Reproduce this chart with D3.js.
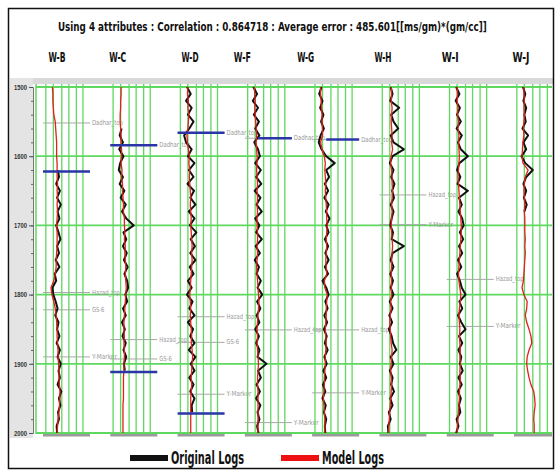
<!DOCTYPE html>
<html>
<head>
<meta charset="utf-8">
<script src="https://cdnjs.cloudflare.com/ajax/libs/d3/7.8.5/d3.min.js"></script>
<style>
  body { margin: 0; background: #fff; }
  text { font-family: 'Liberation Sans Narrow', 'DejaVu Sans Condensed', 'Liberation Sans', sans-serif; }
</style>
</head>
<body>
<div id="chart"></div>
<script>
// ---- data ----
const wells = ['W-B', 'W-C', 'W-D', 'W-F', 'W-G', 'W-H', 'W-I', 'W-J'];

const depths = [
  1500, 1510, 1520, 1530, 1540, 1550, 1560, 1570, 1580, 1590,
  1600, 1610, 1620, 1630, 1640, 1650, 1660, 1670, 1680, 1690,
  1700, 1710, 1720, 1730, 1740, 1750, 1760, 1770, 1780, 1790,
  1800, 1810, 1820, 1830, 1840, 1850, 1860, 1870, 1880, 1890,
  1900, 1910, 1920, 1930, 1940, 1950, 1960, 1970, 1980, 1990,
  2000
];
const depthTicks = [1500, 1600, 1700, 1800, 1900, 2000];

// log values, 0..100 across each track
const modelB = [20,21,21,22,23,26,27,28,29,29, 29,30,30,30,31,30,31,30,31,30, 29,30,30,30,29,28,28,26,23,17, 19,23,26,28,29,30,30,31,32,32, 33,34,34,35,36,36,35,34,32,31, 30];
const origB  = [null,null,null,null,null,null,null,null,null,null, null,null,32,34,28,36,30,38,31,35, 28,33,37,30,34,27,35,25,28,20, 22,27,31,26,33,30,35,29,36,31, 38,33,36,31,39,34,37,32,34,29, 30];

const modelC = [23,23,22,22,21,21,22,23,23,24, 24,23,25,24,26,26,27,28,28,30, 30,31,30,32,31,32,33,32,33,34, 33,32,31,30,29,29,30,29,30,30, 29,29,28,28,28,28,27,27,27,27, 27];
const origC  = [null,null,null,null,null,null,24,20,27,19, 28,21,18,27,20,30,22,33,25,34, 50,28,34,27,35,29,37,30,36,38, 32,36,27,33,25,31,26,33,28,34, 29,31,null,null,null,null,null,null,null,null, null];

const modelD = [22,21,23,22,24,23,22,20,21,23, 25,24,26,25,26,27,28,27,28,29, 28,29,30,31,30,31,30,29,28,27, 26,27,28,27,28,29,30,29,31,32, 31,30,29,30,29,28,28,28,28,28, 28];
const origD  = [20,28,18,30,22,34,25,14,18,30, 22,36,24,34,21,35,27,38,24,36, 26,40,28,37,27,38,26,34,22,30, 20,32,25,36,22,33,27,36,24,38, 28,36,25,34,27,36,30,31,null,null, null];

const modelF = [20,21,22,21,22,23,24,25,24,25, 26,26,25,26,27,26,27,26,27,26, 26,27,27,26,27,26,25,26,27,28, 29,30,29,28,27,26,27,26,27,28, 29,28,27,27,28,28,28,28,28,28, 28];
const origF  = [18,26,17,28,19,30,22,31,20,28, 32,22,34,24,35,21,33,25,36,22, 31,24,36,23,32,21,30,25,34,27, 37,26,33,25,31,22,30,24,31,27, 46,28,34,25,32,24,33,27,31,26, 29];

const modelG = [18,18,19,20,21,21,22,22,18,21, 26,28,27,28,29,28,29,30,31,31, 32,31,30,31,30,29,30,31,26,27, 32,31,30,30,29,28,29,30,29,28, 28,27,26,26,25,24,25,26,27,27, 27];
const origG  = [20,15,22,17,24,19,25,18,14,20, 30,48,30,36,27,34,26,35,29,37, 30,35,27,34,28,35,27,34,22,30, 35,28,33,26,32,25,31,27,33,26, 31,24,30,23,28,22,29,25,30,27, 28];

const modelH = [25,26,25,27,26,25,26,27,26,28, 25,24,26,27,27,28,27,26,27,26, 25,26,27,28,27,26,26,25,26,25, 26,24,25,23,22,23,24,25,27,26, 25,24,25,26,25,24,23,22,21,20, 19];
const origH  = [24,28,23,42,25,30,40,24,30,52, 28,22,30,25,32,27,31,24,30,26, 23,29,26,52,28,24,30,23,29,24, 30,22,28,21,27,20,26,29,36,24, 30,22,28,25,31,23,28,20,24,18, 19];

const modelI = [22,23,22,24,23,25,24,26,25,26, 27,26,25,24,25,26,27,28,29,30, 31,31,30,29,28,27,26,25,26,28, 30,29,27,26,27,28,27,28,29,28, 29,28,29,28,27,27,26,25,24,23, 22];
const origI  = [20,27,19,28,22,30,21,32,24,30, 45,27,22,29,23,45,26,32,25,33, 36,28,35,26,33,24,31,22,28,32, 40,27,33,24,31,40,26,33,25,31, 28,34,25,32,24,30,26,29,21,25, 20];

const modelJ = [21,21,22,21,22,21,20,21,19,18, 17,19,30,24,22,21,22,23,22,23, 23,23,24,23,24,23,22,21,20,17, 21,28,27,24,27,32,36,38,32,28, 27,29,32,36,42,44,45,43,42,43, 43];
const origJ  = [19,24,20,26,22,25,18,30,20,26, 16,24,40,26,20,26,21,27,22,null, null,null,null,null,null,null,null,null,null,null, null,null,null,null,null,null,null,null,null,null, null,null,null,null,null,null,null,null,null,null, null];

const modelLogs = [modelB, modelC, modelD, modelF, modelG, modelH, modelI, modelJ];
const origLogs  = [origB, origC, origD, origF, origG, origH, origI, origJ];

// formation tops
const topWells  = ['W-B','W-B','W-B','W-B', 'W-C','W-C','W-C', 'W-D','W-D','W-D','W-D', 'W-F','W-F','W-F', 'W-G','W-G','W-G', 'W-H','W-H', 'W-I','W-I'];
const topNames  = ['Dadhar_top','Hazad_top','GS-6','Y-Marker', 'Dadhar_top','Hazad_top','GS-6', 'Dadhar_top','Hazad_top','GS-6','Y-Marker', 'Dadhar_top','Hazad_top','Y-Marker', 'Dadhar_top','Hazad_top','Y-Marker', 'Hazad_top','Y-Marker', 'Hazad_top','Y-Marker'];
const topDepths = [1552,1797,1822,1890, 1584,1865,1893, 1566,1832,1869,1944, 1574,1851,1985, 1576,1851,1942, 1656,1699, 1778,1846];

// log limit markers (blue)
const limitWells  = ['W-B', 'W-C', 'W-C', 'W-D', 'W-D', 'W-F', 'W-G'];
const limitDepths = [1622, 1584, 1912, 1566, 1972, 1574, 1576];
const limitFrom   = [0, 0, 0, 0, 0, 28, 30];

const gridUnits = [6, 22, 40, 55, 71, 85];

// ---- layout ----
const W = 555, H = 471;
const trackW = 47;
const headerNudge = [-9.5, -16, -11, -26, -30, -20, -20, -16.5];

const svg = d3.select('#chart').append('svg')
  .attr('width', W).attr('height', H);

svg.append('rect').attr('width', W).attr('height', H).attr('fill', '#fff');

svg.append('defs').append('clipPath').attr('id', 'plotclip')
  .append('rect').attr('x', 9).attr('y', 9).attr('width', 543).attr('height', 458);

// squeeze a text horizontally to a given width (narrow bold look)
function squeeze(sel, width) {
  sel.each(function () {
    const t = d3.select(this);
    const w = this.getComputedTextLength();
    const x0 = +t.attr('x'), y0 = +t.attr('y');
    const anchor = t.attr('text-anchor') || 'start';
    const k = width / w;
    t.attr('x', 0).attr('y', 0)
      .attr('transform', `translate(${x0},${y0}) scale(${k},1)`);
    if (anchor === 'middle') t.attr('text-anchor', 'middle');
  });
}

// gray bands
svg.append('rect').attr('x', 10).attr('y', 78).attr('width', 543).attr('height', 6).attr('fill', '#d9d9d9');
svg.append('rect').attr('x', 10).attr('y', 78).attr('width', 23).attr('height', 360).attr('fill', '#e4e4e4');

const y = d3.scaleLinear().domain([1500, 2000]).range([87, 433]);
const track = d3.scaleLinear().domain([0, wells.length - 1]).range([43, 514]);
const x = d3.scaleLinear().domain([0, 100]).range([0, trackW]);

const plot = svg.append('g').attr('clip-path', 'url(#plotclip)');

// horizontal grid
plot.selectAll('line.hgrid').data(depthTicks).enter().append('line')
  .attr('x1', 36).attr('x2', 553)
  .attr('y1', d => y(d)).attr('y2', d => y(d))
  .attr('stroke', '#5fd85f').attr('stroke-width', 1.8);

plot.append('line').attr('x1', 36).attr('x2', 36).attr('y1', 84).attr('y2', 434)
  .attr('stroke', '#5fd85f').attr('stroke-width', 1.5);

// depth axis
const axisG = svg.append('g').attr('transform', 'translate(33,0)');
axisG.append('g')
  .call(d3.axisLeft(y).tickValues(depths.filter((d, i) => i % 2 === 0)).tickSize(2).tickFormat(''))
  .call(g => g.select('.domain').remove())
  .call(g => g.selectAll('line').attr('stroke', '#666'));
axisG.append('g')
  .call(d3.axisLeft(y).tickValues(depthTicks).tickSize(4).tickPadding(2).tickFormat(d3.format('d')))
  .call(g => g.select('.domain').attr('stroke', '#777'))
  .call(g => g.selectAll('line').attr('stroke', '#555'))
  .call(g => g.selectAll('text').attr('font-size', 7).attr('font-weight', 'bold').attr('fill', '#333')
    .attr('textLength', 13).attr('lengthAdjust', 'spacingAndGlyphs')
    .style('font-family', "'Liberation Sans Narrow','Liberation Sans',sans-serif"));

const logLine = d3.line()
  .defined(d => d[1] != null)
  .x(d => x(d[1])).y(d => y(d[0]));

wells.forEach((w, i) => {
  const g = plot.append('g').attr('transform', `translate(${track(i)},0)`);

  g.selectAll('line.vgrid').data(gridUnits).enter().append('line')
    .attr('x1', d => x(d)).attr('x2', d => x(d))
    .attr('y1', 84).attr('y2', 434)
    .attr('stroke', '#5fd85f').attr('stroke-width', 1.3);

  g.append('rect').attr('x', 0).attr('y', 434).attr('width', trackW).attr('height', 2.5).attr('fill', '#9a9a9a');

  // tops
  topWells.forEach((tw, k) => {
    if (tw !== w) return;
    g.append('line').attr('x1', 0).attr('x2', trackW)
      .attr('y1', y(topDepths[k])).attr('y2', y(topDepths[k]))
      .attr('stroke', '#a8a8a8').attr('stroke-width', 1);
    g.append('text').attr('x', trackW + 2).attr('y', y(topDepths[k]) + 2)
      .attr('font-size', 7).attr('fill', '#9a9a9a')
      .text(topNames[k])
      .call(s => squeeze(s, topNames[k].length * 3.1));
  });

  const orig = depths.map((d, k) => [d, origLogs[i][k]]);
  const model = depths.map((d, k) => [d, modelLogs[i][k]]);

  g.append('path').attr('d', logLine(orig))
    .attr('fill', 'none').attr('stroke', '#111').attr('stroke-width', 2).attr('stroke-linejoin', 'round');
  g.append('path').attr('d', logLine(model))
    .attr('fill', 'none').attr('stroke', '#e0201a').attr('stroke-width', 1.3);

  limitWells.forEach((lw, k) => {
    if (lw !== w) return;
    g.append('line').attr('x1', x(limitFrom[k])).attr('x2', trackW)
      .attr('y1', y(limitDepths[k])).attr('y2', y(limitDepths[k]))
      .attr('stroke', '#2a35a8').attr('stroke-width', 2.5);
  });
});

// headers
svg.selectAll('text.well').data(wells).enter().append('text')
  .attr('class', 'well')
  .attr('x', (d, i) => track(i) + trackW / 2 + headerNudge[i])
  .attr('y', 62)
  .attr('text-anchor', 'middle')
  .attr('font-size', 14).attr('font-weight', 'bold').attr('fill', '#111')
  .text(d => d)
  .call(s => squeeze(s, 17));

svg.append('text').attr('x', 58).attr('y', 31)
  .attr('font-size', 13).attr('font-weight', 'bold').attr('fill', '#111')
  .text('Using 4 attributes : Correlation : 0.864718 : Average error : 485.601[[ms/gm)*(gm/cc]]')
  .call(s => squeeze(s, 429));

// legend
const legend = [['Original Logs', '#111', 130, 73], ['Model Logs', '#ee1111', 281, 62]];
legend.forEach(([label, col, lx, tl]) => {
  svg.append('rect').attr('x', lx).attr('y', 455).attr('width', 38).attr('height', 6).attr('fill', col);
  svg.append('text').attr('x', lx + 41).attr('y', 464)
    .attr('font-size', 17).attr('font-weight', 'bold').attr('fill', '#111')
    .text(label)
    .call(s => squeeze(s, tl));
});

// frame
svg.append('rect').attr('x', 8.5).attr('y', 8.5).attr('width', 545).attr('height', 460)
  .attr('fill', 'none').attr('stroke', '#111').attr('stroke-width', 1.5);
</script>
</body>
</html>
